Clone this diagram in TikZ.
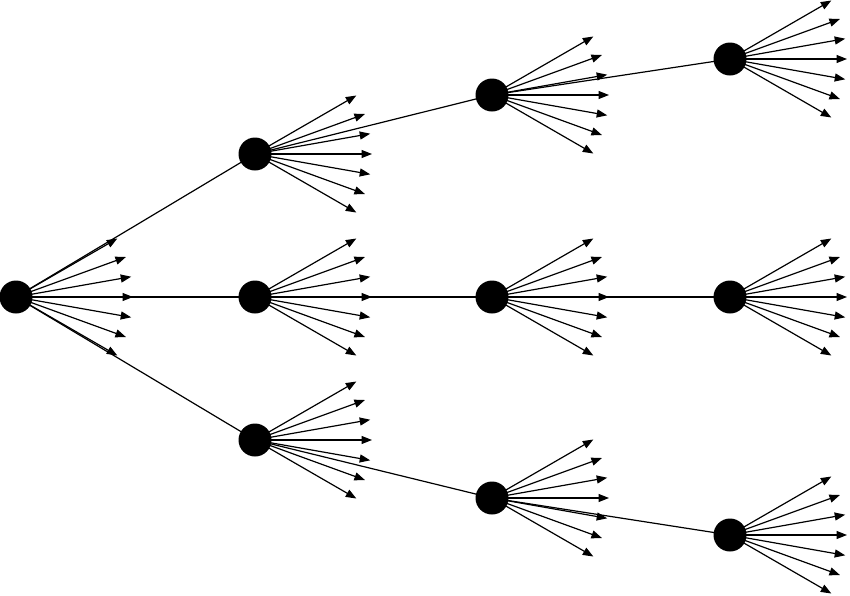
\documentclass[tikz,border=0pt]{standalone}
\usetikzlibrary{arrows.meta}
\begin{document}
\begin{tikzpicture}[x=1pt,y=-1pt,
  dot/.style={circle,fill=black,minimum size=33pt,inner sep=0pt},
  fanarrow/.style={line width=1.2pt,-{Triangle[length=10.5pt,width=8pt]}},
  link/.style={line width=1.2pt}]
\useasboundingbox (0,0) rectangle (850,595);
% positions
\coordinate (r) at (16,297);
\coordinate (a1) at (255,154);
\coordinate (a2) at (255,297);
\coordinate (a3) at (255,440);
\coordinate (b1) at (492,95);
\coordinate (b2) at (492,297);
\coordinate (b3) at (492,498);
\coordinate (c1) at (730,59);
\coordinate (c2) at (730,297);
\coordinate (c3) at (730,535);
% links
\draw[link] (r) -- (a1);
\draw[link] (r) -- (a2);
\draw[link] (r) -- (a3);
\draw[link] (a1) -- (b1) -- (c1);
\draw[link] (a2) -- (b2) -- (c2);
\draw[link] (a3) -- (b3) -- (c3);
% fans
\foreach \n in {r,a1,a2,a3,b1,b2,b3,c1,c2,c3}{
  \foreach \a in {-30,-20,-10,0,10,20,30}{
    \draw[fanarrow] (\n) -- ++(\a:117);
  }
}
% dots
\foreach \n in {r,a1,a2,a3,b1,b2,b3,c1,c2,c3}{
  \node[dot] (d\n) at (\n) {};
}
\end{tikzpicture}
\end{document}
